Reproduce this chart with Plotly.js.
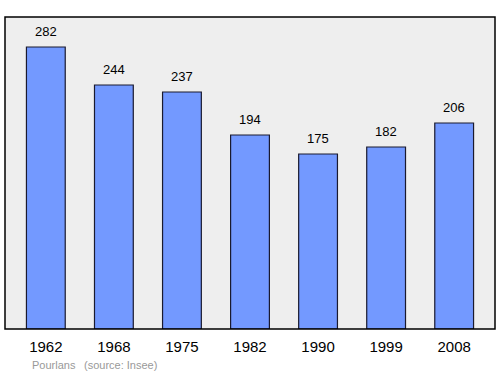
<!DOCTYPE html>
<html>
<head>
<meta charset="utf-8">
<script src="https://cdn.plot.ly/plotly-3.0.1.min.js"></script>
<style>html,body{margin:0;padding:0;background:#fff;}#chart{width:500px;height:374px;}</style>
</head>
<body>
<div id="chart"></div>
<script>
const years = ["1962", "1968", "1975", "1982", "1990", "1999", "2008"];
const population = [282, 244, 237, 194, 175, 182, 206];
const place = "Pourlans";
const source = "(source: Insee)";

const FONT = "Liberation Sans, Arial, sans-serif";
const trace = {
  type: "bar",
  x: years.map((_, i) => i),
  y: population,
  width: 0.57,
  marker: {color: "#7399ff", line: {color: "#1a1a2e", width: 1.2}},
  hoverinfo: "none"
};

const annotations = years.map((yr, i) => ({
  x: i, y: population[i], xref: "x", yref: "y",
  text: String(population[i]), showarrow: false,
  yanchor: "bottom", yshift: 6,
  font: {family: FONT, size: 13, color: "#000"}
}));

const W = 500, H = 374, mL = 5, mR = 5, mT = 17, mB = 45;
const pw = W - mL - mR, ph = H - mT - mB;
function px2paper(x, y) { return [(x - mL) / pw, (H - mB - y) / ph]; }
[[place, 30], [source, 82]].forEach(([t, xp]) => {
  const [px, py] = px2paper(xp, 365);
  annotations.push({
    x: px, y: py, xref: "paper", yref: "paper", text: t, showarrow: false,
    xanchor: "left", yanchor: "middle",
    font: {family: FONT, size: 11, color: "#999"}
  });
});

const layout = {
  width: W, height: H,
  margin: {l: mL, r: mR, t: mT, b: mB, pad: 0},
  paper_bgcolor: "#ffffff",
  plot_bgcolor: "#eeeeee",
  showlegend: false,
  xaxis: {
    type: "linear", range: [-0.6, 6.6],
    tickmode: "array", tickvals: years.map((_, i) => i), ticktext: years,
    showgrid: false, zeroline: false, showline: false, ticks: "",
    ticklabelstandoff: 7,
    tickfont: {family: FONT, size: 15, color: "#000"}
  },
  yaxis: {
    range: [0, 312], showgrid: false, zeroline: false, showline: false,
    showticklabels: false, ticks: ""
  },
  shapes: [{
    type: "rect", xref: "paper", yref: "paper", x0: 0, x1: 1, y0: 0, y1: 1,
    line: {color: "#000", width: 1.5}, fillcolor: "rgba(0,0,0,0)", layer: "above"
  }],
  annotations: annotations
};

Plotly.newPlot("chart", [trace], layout, {staticPlot: true, displayModeBar: false});
</script>
</body>
</html>
